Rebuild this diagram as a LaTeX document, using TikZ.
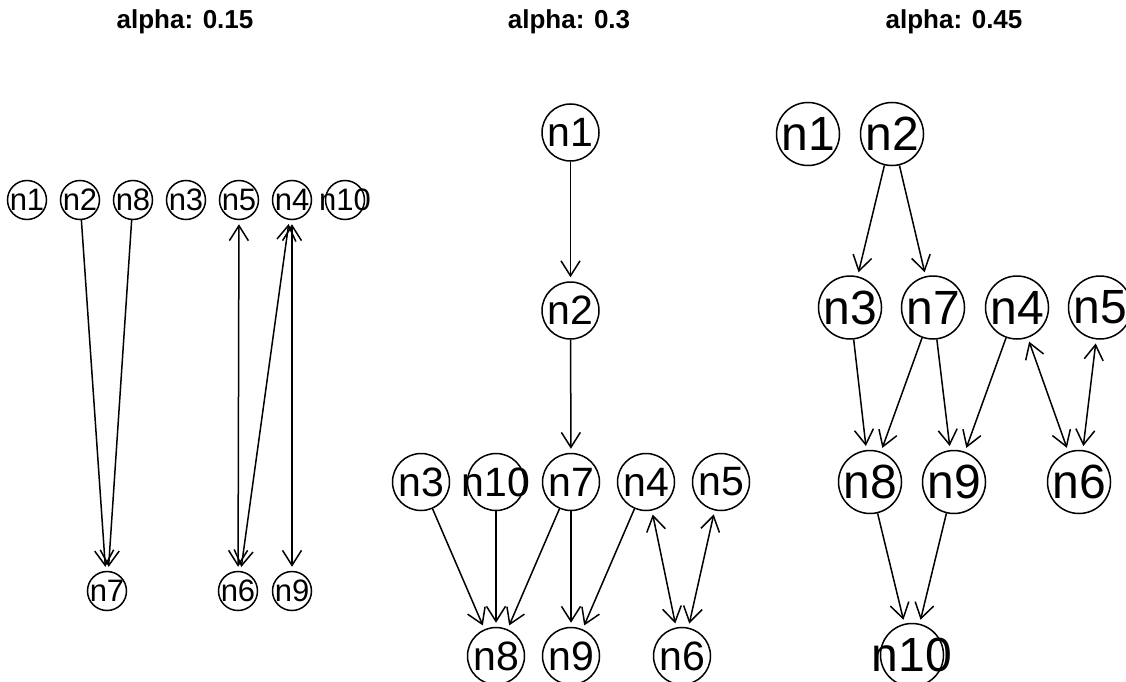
\documentclass[tikz,border=0pt]{standalone}
\usepackage{fontspec}
\setmainfont{Liberation Sans}
\usetikzlibrary{arrows.meta}
\tikzstyle{vtx} = [draw, circle, line width=1.5pt, inner sep=0mm]
\tikzstyle{vsmall} = [vtx, minimum size=39pt, font=\fontsize{31}{31}\selectfont]
\tikzstyle{vmid} = [vtx, minimum size=57pt, font=\fontsize{41}{41}\selectfont]
\tikzstyle{vbig} = [vtx, minimum size=63pt, font=\fontsize{48}{48}\selectfont]
\tikzstyle{e} = [line width=1.5pt, -{Straight Barb[length=15pt, width=19pt]}, shorten >=4pt]
\tikzstyle{ee} = [e, {Straight Barb[length=15pt, width=19pt]}-{Straight Barb[length=15pt, width=19pt]}, shorten <=4pt]
\tikzstyle{ttl} = [anchor=base, inner sep=0mm, font=\bfseries\fontsize{26}{26}\selectfont]

\begin{document}
\begin{tikzpicture}[x=1pt, y=-1pt]
    \clip (0, 0) rectangle (1126, 682);

    % alpha 0.15
    \node[ttl] (t1) at (185, 29) {alpha: 0.15};
    \foreach \n/\x/\y in {1/27/200, 2/80/200, 8/133/200, 3/186/200, 5/239/200, 4/292/200, 10/345/200, 7/107/591, 6/238/591, 9/292/591}
    \node[vsmall] (a\n) at (\x, \y) {\makebox[0pt]{\raisebox{-.1em}{n\n}}};
    \foreach \f/\t in {a2/a7, a8/a7}
    \draw[e] (\f) -- (\t);
    \foreach \f/\t in {a5/a6, a4/a6, a4/a9}
    \draw[ee] (\f) -- (\t);

    % alpha 0.3
    \node[ttl] (t2) at (569, 29) {alpha: 0.3};
    \foreach \n/\x/\y in {1/570.5/132.5, 2/570.5/310.5, 3/421/482, 10/496/482, 7/571/482, 4/646/482, 5/721/482, 8/496/656, 9/571/656, 6/682/656}
    \node[vmid] (b\n) at (\x, \y) {\makebox[0pt]{\raisebox{-.1em}{n\n}}};
    \foreach \f/\t in {b1/b2, b2/b7, b3/b8, b10/b8, b7/b8, b7/b9, b4/b9}
    \draw[e] (\f) -- (\t);
    \foreach \f/\t in {b4/b6, b5/b6}
    \draw[ee] (\f) -- (\t);

    % alpha 0.45
    \node[ttl] (t3) at (954, 29) {alpha: 0.45};
    \foreach \n/\x/\y in {1/808/134, 2/892/134, 3/850/307.5, 7/933/307.5, 4/1017/307.5, 5/1100/307.5, 8/870/482, 9/954/482, 6/1079/482, 10/912/655}
    \node[vbig] (c\n) at (\x, \y) {\makebox[0pt]{\raisebox{-.1em}{n\n}}};
    \foreach \f/\t in {c2/c3, c2/c7, c3/c8, c7/c8, c7/c9, c4/c9, c8/c10, c9/c10}
    \draw[e] (\f) -- (\t);
    \foreach \f/\t in {c4/c6, c5/c6}
    \draw[ee] (\f) -- (\t);
\end{tikzpicture}
\end{document}
